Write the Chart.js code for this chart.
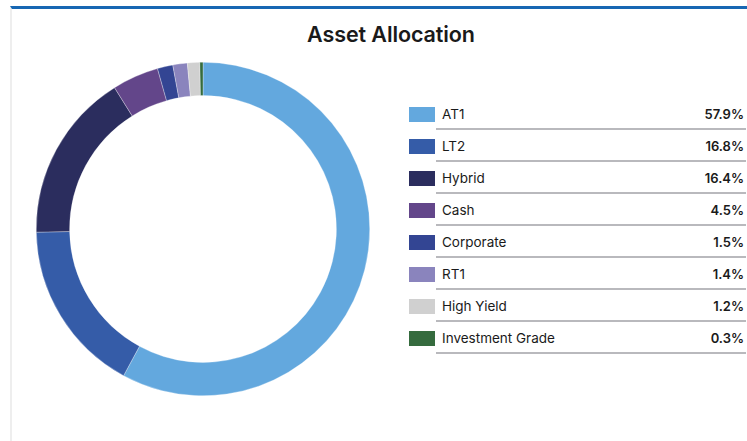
<!DOCTYPE html>
<html>

<head>
    <title>Asset Allocation</title>
    <script src="https://cdn.jsdelivr.net/npm/chart.js"></script>
    <style>
        body { margin: 0; background: #fff; font-family: Inter, "Noto Sans", sans-serif; color: #1a1a1a; }
        #frame { position: absolute; left: 10px; top: 6px; width: 737px; height: 435px; border-top: 3px solid #1767b3; border-left: 2px solid #eeeeee; box-sizing: border-box; }
        #title { position: absolute; left: 291px; width: 200px; top: 21px; text-align: center; font-size: 21.5px; font-weight: 600; letter-spacing: -0.1px; }
        #chartBox { position: absolute; left: 36px; top: 62px; width: 334px; height: 334px; }
        #legend { position: absolute; left: 409px; top: 102px; width: 337px; }
        .row { position: relative; height: 32px; }
        .sw { position: absolute; left: 0; top: 5px; width: 26px; height: 15px; }
        .lab { position: absolute; left: 33px; top: 4px; font-size: 13.5px; }
        .val { position: absolute; right: 2px; top: 4px; font-size: 13px; font-weight: 600; }
        .line { position: absolute; left: 27px; right: 0; top: 26px; border-top: 2px solid #b9b9bd; }
    </style>
</head>

<body>
    <div id="frame"></div>
    <div id="title">Asset Allocation</div>
    <div id="chartBox"><canvas id="myChart"></canvas></div>
    <div id="legend"></div>

    <script>
        // data
        const categories = ['AT1', 'LT2', 'Hybrid', 'Cash', 'Corporate', 'RT1', 'High Yield', 'Investment Grade'];
        const weights = [57.9, 16.8, 16.4, 4.5, 1.5, 1.4, 1.2, 0.3];
        const colours = ['#63a8de', '#355ca8', '#2b2d5e', '#63468a', '#334593', '#8a84bd', '#d0d0d0', '#356b3e'];

        var ctx = document.getElementById('myChart').getContext('2d');
        var myChart = new Chart(ctx, {
            type: 'doughnut',
            data: {
                labels: categories,
                datasets: [{
                    data: weights,
                    backgroundColor: colours,
                    borderColor: 'rgba(255,255,255,0.6)',
                    borderWidth: 0.5
                }]
            },
            options: {
                responsive: true,
                maintainAspectRatio: false,
                animation: false,
                cutout: '80%',
                layout: { padding: 0 },
                plugins: {
                    legend: { display: false },
                    tooltip: { enabled: false }
                }
            }
        });

        // html legend built from the same arrays
        var legend = document.getElementById('legend');
        categories.forEach(function (name, i) {
            var row = document.createElement('div');
            row.className = 'row';
            row.innerHTML = '<div class="sw" style="background:' + colours[i] + '"></div>' +
                '<div class="lab">' + name + '</div>' +
                '<div class="val">' + weights[i].toFixed(1) + '%</div>' +
                '<div class="line"></div>';
            legend.appendChild(row);
        });
    </script>

</body>

</html>
